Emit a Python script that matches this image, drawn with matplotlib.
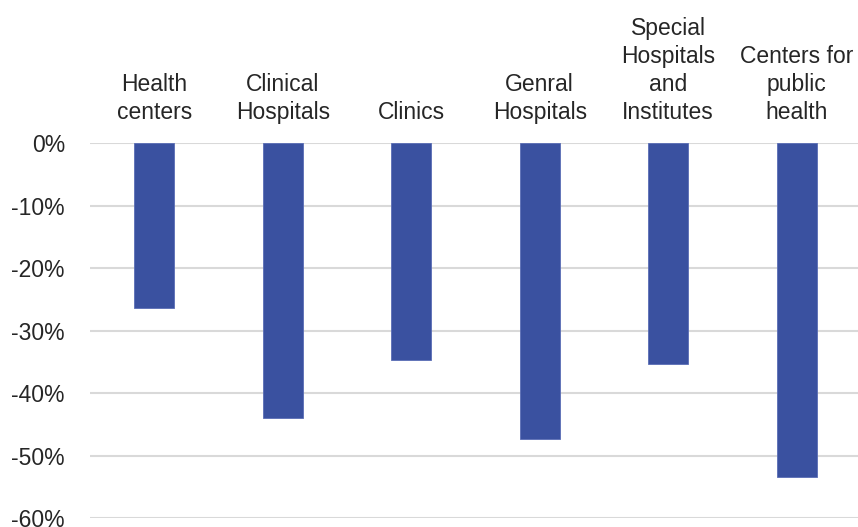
import matplotlib
matplotlib.use("Agg")
import matplotlib.pyplot as plt
import matplotlib.transforms as mtransforms

categories = ["Health\ncenters", "Clinical\nHospitals", "Clinics", "Genral\nHospitals",
              "Special\nHospitals\nand\nInstitutes", "Centers for\npublic\nhealth"]
values = [-26.4, -43.9, -34.7, -47.4, -35.3, -53.4]
yticks = [0, -10, -20, -30, -40, -50, -60]
ytick_labels = ["0%", "-10%", "-20%", "-30%", "-40%", "-50%", "-60%"]

plt.rcParams['font.family'] = ['Liberation Sans', 'DejaVu Sans']

fig = plt.figure(figsize=(8.58, 5.27), dpi=100)
left = 90 / 858
right = 861 / 858
top = 1 - 143 / 527
bottom = 1 - 518.3 / 527
ax = fig.add_axes([left, bottom, right - left, top - bottom])

x = list(range(len(categories)))
ax.bar(x, values, width=0.31, color="#3A51A0", edgecolor="#5A6DB5", linewidth=0.6, zorder=3)

ax.set_xlim(-0.5, 5.5)
ax.set_ylim(-60, 0)
ax.set_yticks(yticks)
ax.set_yticklabels(ytick_labels, fontsize=16.5, color="#262626")
ax.tick_params(axis='y', length=0, pad=18)
ax.set_xticks([])
for s in ax.spines.values():
    s.set_visible(False)
ax.yaxis.grid(True, color="#D9D9D9", linewidth=1.5, zorder=0)
ax.set_axisbelow(True)

trans = mtransforms.blended_transform_factory(ax.transData, ax.transAxes)
for xi, lab in zip(x, categories):
    ax.annotate(lab, xy=(xi, 1.0), xycoords=trans, xytext=(0, 14), textcoords='offset points',
                ha='center', va='bottom', fontsize=16.5, color="#262626", linespacing=1.27,
                annotation_clip=False)

fig.savefig("out.png", dpi=100)
